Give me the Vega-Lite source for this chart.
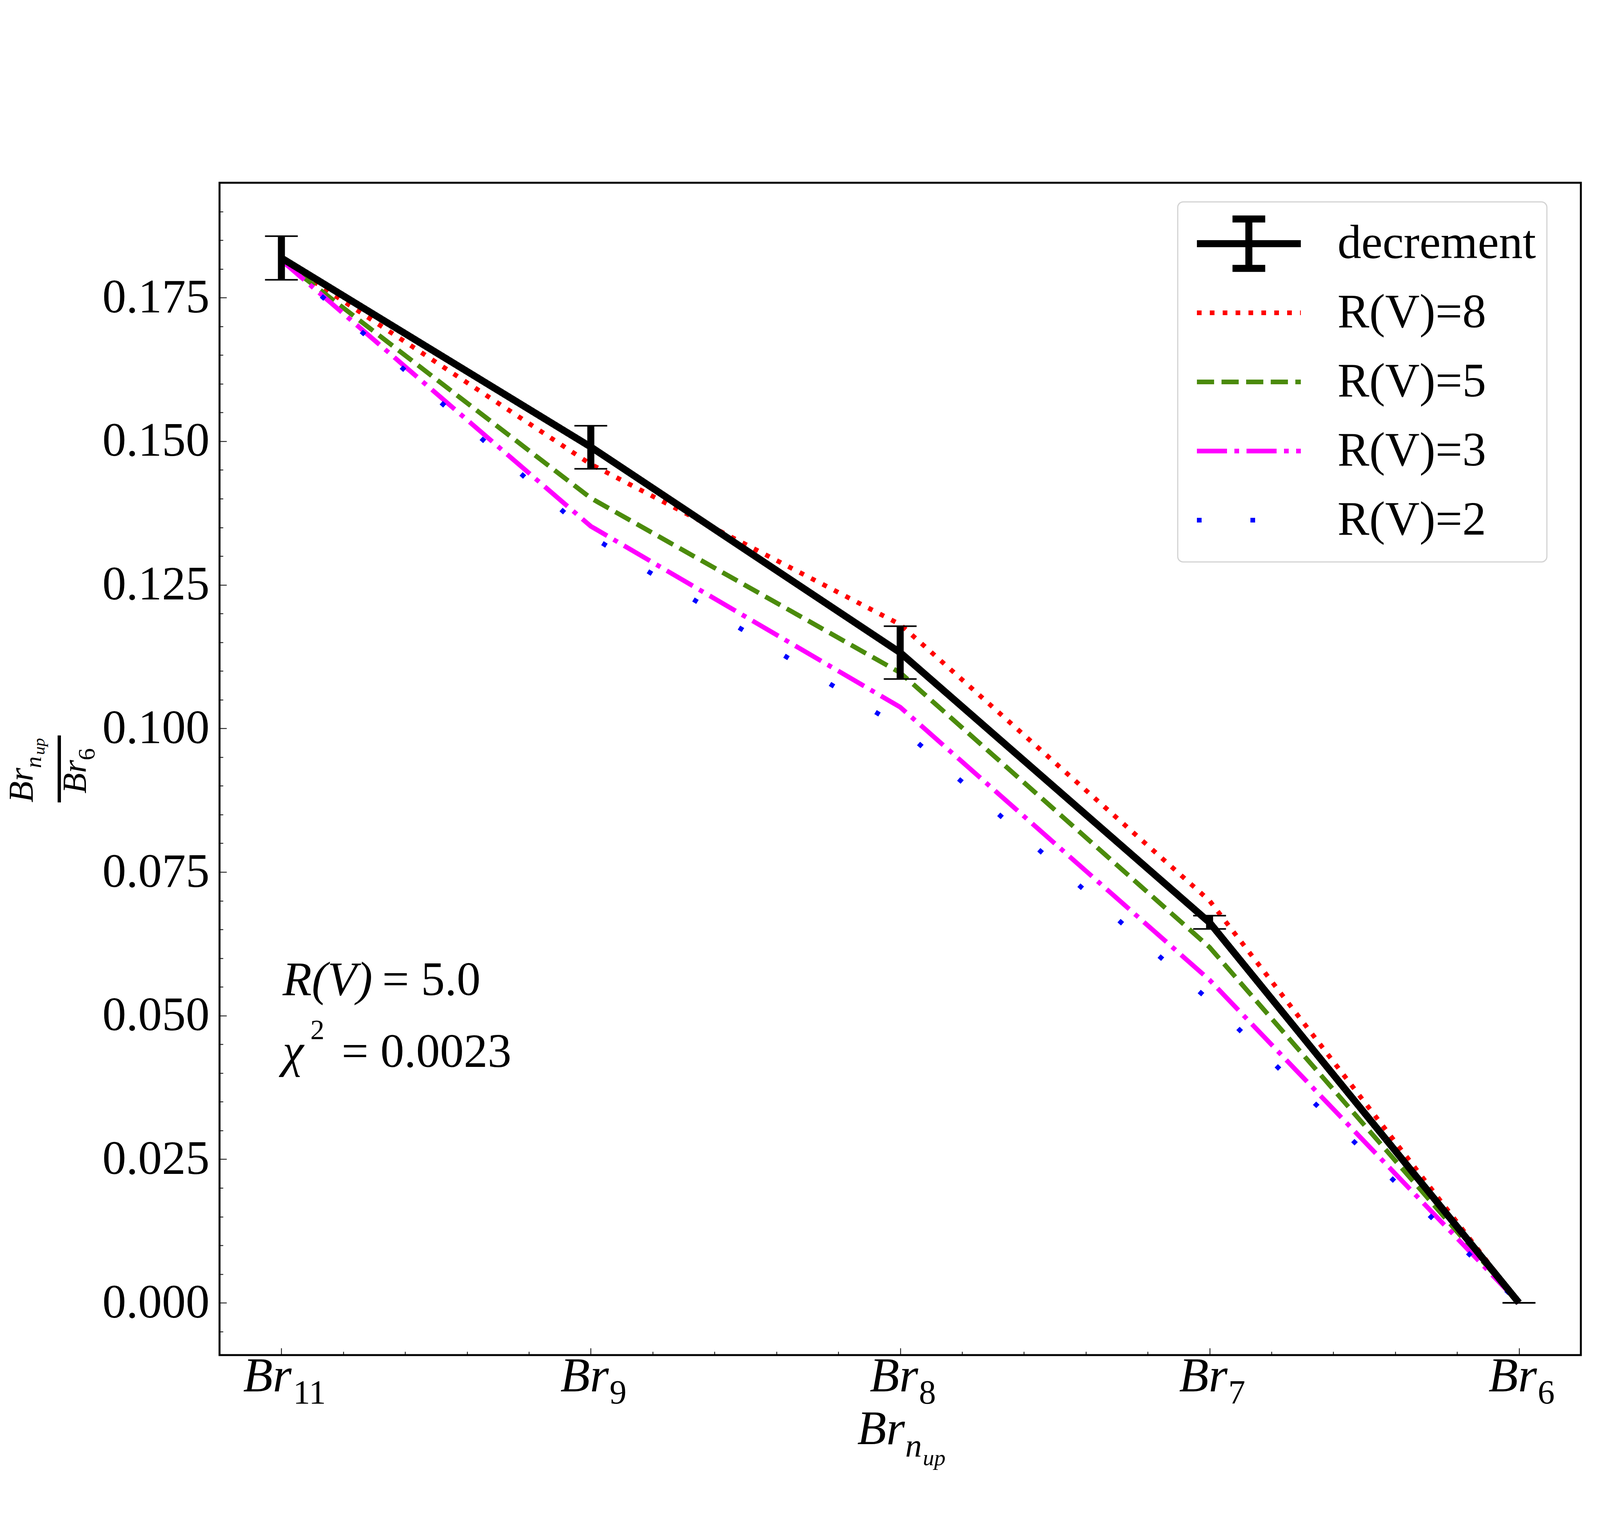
{
  "$schema": "https://vega.github.io/schema/vega-lite/v6.json",
  "width": 3485,
  "height": 3002,
  "autosize": "none",
  "padding": {"left": 562, "top": 468, "right": 453, "bottom": 430},
  "background": "white",
  "datasets": {
    "models": [
      {"series": "R(V)=8", "x": 0, "y": 0.1815},
      {"series": "R(V)=8", "x": 1, "y": 0.146},
      {"series": "R(V)=8", "x": 2, "y": 0.1181},
      {"series": "R(V)=8", "x": 3, "y": 0.07},
      {"series": "R(V)=8", "x": 4, "y": 0.0},
      {"series": "R(V)=5", "x": 0, "y": 0.1815},
      {"series": "R(V)=5", "x": 1, "y": 0.1401},
      {"series": "R(V)=5", "x": 2, "y": 0.1097},
      {"series": "R(V)=5", "x": 3, "y": 0.0619},
      {"series": "R(V)=5", "x": 4, "y": 0.0},
      {"series": "R(V)=3", "x": 0, "y": 0.1815},
      {"series": "R(V)=3", "x": 1, "y": 0.1352},
      {"series": "R(V)=3", "x": 2, "y": 0.1037},
      {"series": "R(V)=3", "x": 3, "y": 0.0562},
      {"series": "R(V)=3", "x": 4, "y": 0.0},
      {"series": "R(V)=2", "x": 0, "y": 0.1815},
      {"series": "R(V)=2", "x": 1, "y": 0.1335},
      {"series": "R(V)=2", "x": 2, "y": 0.1002},
      {"series": "R(V)=2", "x": 3, "y": 0.0526},
      {"series": "R(V)=2", "x": 4, "y": 0.0}
    ],
    "dec": [
      {"series": "decrement", "x": 0, "y": 0.1819, "lo": 0.1781, "hi": 0.1857},
      {"series": "decrement", "x": 1, "y": 0.149, "lo": 0.1452, "hi": 0.1527},
      {"series": "decrement", "x": 2, "y": 0.1132, "lo": 0.1086, "hi": 0.1178},
      {"series": "decrement", "x": 3, "y": 0.0662, "lo": 0.0651, "hi": 0.0674},
      {"series": "decrement", "x": 4, "y": 0.0, "lo": 0.0, "hi": 0.0}
    ],
    "ticks": [
      {"x": 0, "sub": "11"},
      {"x": 1, "sub": "9"},
      {"x": 2, "sub": "8"},
      {"x": 3, "sub": "7"},
      {"x": 4, "sub": "6"}
    ]
  },
  "data": {"values": [{}]},
  "layer": [
    {
      "data": {"name": "models"},
      "mark": {"type": "line", "strokeWidth": 12, "clip": true},
      "encoding": {
        "x": {
          "field": "x", "type": "quantitative",
          "scale": {"domain": [-0.2, 4.2], "nice": false, "zero": false},
          "axis": {"orient": "bottom", "values": [0, 1, 2, 3, 4], "labels": false, "tickSize": -18, "tickWidth": 2, "tickColor": "black", "domain": false, "grid": false, "title": null}
        },
        "y": {
          "field": "y", "type": "quantitative",
          "scale": {"domain": [-0.0091, 0.195], "nice": false, "zero": false},
          "axis": {"orient": "left", "values": [0, 0.025, 0.05, 0.075, 0.1, 0.125, 0.15, 0.175], "format": ".3f", "tickSize": -18, "tickWidth": 2, "tickColor": "black", "labelPadding": 44, "labelLimit": 0, "labelFont": "Liberation Serif", "labelFontSize": 122, "labelColor": "black", "domain": false, "grid": false, "title": null}
        },
        "color": {
          "field": "series", "type": "nominal",
          "scale": {"domain": ["decrement", "R(V)=8", "R(V)=5", "R(V)=3", "R(V)=2"], "range": ["#000000", "#ff0000", "#4b8b0c", "#ff00ff", "#0000ff"]},
          "legend": {
            "title": null,
            "encode": {
              "symbols": {
                "update": {
                  "shape": {"signal": "datum.value === 'decrement' ? 'M-1.17,0H6.83M2.83,-1.9V1.9M1.57,-1.9H4.09M1.57,1.9H4.09' : 'M-1.17,0H6.83'"},
                  "strokeWidth": {"signal": "datum.value === 'decrement' ? 18 : 12"}
                }
              }
            }
          }
        },
        "strokeDash": {
          "field": "series", "type": "nominal",
          "scale": {"domain": ["decrement", "R(V)=8", "R(V)=5", "R(V)=3", "R(V)=2"], "range": [[1, 0], [12, 21], [44, 19], [77, 19, 12, 19], [12, 125]]},
          "legend": {"title": null}
        }
      }
    },
    {
      "data": {"name": "dec"},
      "mark": {"type": "line", "strokeWidth": 18, "clip": true},
      "encoding": {
        "x": {
          "field": "x", "type": "quantitative",
          "axis": {"orient": "bottom", "values": [0.2, 0.4, 0.6, 0.8, 1.2, 1.4, 1.6, 1.8, 2.2, 2.4, 2.6, 2.8, 3.2, 3.4, 3.6, 3.8], "labels": false, "tickSize": -9, "tickWidth": 2, "tickColor": "black", "domain": false, "grid": false, "title": null}
        },
        "y": {
          "field": "y", "type": "quantitative",
          "axis": {"orient": "left", "values": [-0.005, 0.005, 0.01, 0.015, 0.02, 0.03, 0.035, 0.04, 0.045, 0.055, 0.06, 0.065, 0.07, 0.08, 0.085, 0.09, 0.095, 0.105, 0.11, 0.115, 0.12, 0.13, 0.135, 0.14, 0.145, 0.155, 0.16, 0.165, 0.17, 0.18, 0.185, 0.19], "labels": false, "tickSize": -9, "tickWidth": 2, "tickColor": "black", "domain": false, "grid": false, "title": null}
        },
        "color": {"field": "series", "type": "nominal"},
        "strokeDash": {"field": "series", "type": "nominal"}
      }
    },
    {
      "data": {"name": "dec"},
      "mark": {"type": "rule", "strokeWidth": 18, "color": "black"},
      "encoding": {
        "x": {"field": "x", "type": "quantitative", "axis": null},
        "y": {"field": "lo", "type": "quantitative", "axis": null},
        "y2": {"field": "hi"}
      }
    },
    {
      "data": {"name": "dec"},
      "mark": {"type": "tick", "orient": "horizontal", "size": 84, "thickness": 4, "color": "black", "opacity": 1},
      "encoding": {
        "x": {"field": "x", "type": "quantitative", "axis": null},
        "y": {"field": "lo", "type": "quantitative", "axis": null}
      }
    },
    {
      "data": {"name": "dec"},
      "mark": {"type": "tick", "orient": "horizontal", "size": 84, "thickness": 4, "color": "black", "opacity": 1},
      "encoding": {
        "x": {"field": "x", "type": "quantitative", "axis": null},
        "y": {"field": "hi", "type": "quantitative", "axis": null}
      }
    },
    {
      "data": {"name": "ticks"},
      "transform": [{"filter": "datum.sub !== '11'"}],
      "layer": [
        {
          "mark": {"type": "text", "text": "Br", "font": "Liberation Serif", "fontStyle": "italic", "fontSize": 124, "align": "right", "baseline": "alphabetic", "dx": 46, "dy": 93, "color": "black"},
          "encoding": {
            "x": {"field": "x", "type": "quantitative", "axis": null},
            "y": {"datum": -0.0091, "axis": null}
          }
        },
        {
          "mark": {"type": "text", "font": "Liberation Serif", "fontSize": 87, "align": "left", "baseline": "alphabetic", "dx": 48, "dy": 124, "color": "black"},
          "encoding": {
            "x": {"field": "x", "type": "quantitative", "axis": null},
            "y": {"datum": -0.0091, "axis": null},
            "text": {"field": "sub"}
          }
        }
      ]
    },
    {
      "data": {"name": "ticks"},
      "transform": [{"filter": "datum.sub === '11'"}],
      "layer": [
        {
          "mark": {"type": "text", "text": "Br", "font": "Liberation Serif", "fontStyle": "italic", "fontSize": 124, "align": "right", "baseline": "alphabetic", "dx": 26, "dy": 93, "color": "black"},
          "encoding": {
            "x": {"field": "x", "type": "quantitative", "axis": null},
            "y": {"datum": -0.0091, "axis": null}
          }
        },
        {
          "mark": {"type": "text", "font": "Liberation Serif", "fontSize": 87, "align": "left", "baseline": "alphabetic", "dx": 30, "dy": 124, "color": "black"},
          "encoding": {
            "x": {"field": "x", "type": "quantitative", "axis": null},
            "y": {"datum": -0.0091, "axis": null},
            "text": {"field": "sub"}
          }
        }
      ]
    },
    {
      "encoding": {
        "x": {"datum": 2, "type": "quantitative", "axis": null},
        "y": {"datum": -0.0091, "type": "quantitative", "axis": null}
      },
      "layer": [
        {"mark": {"type": "text", "text": "Br", "font": "Liberation Serif", "fontStyle": "italic", "fontSize": 122, "align": "right", "baseline": "alphabetic", "dx": 12, "dy": 228, "color": "black"}},
        {"mark": {"type": "text", "text": "n", "font": "Liberation Serif", "fontStyle": "italic", "fontSize": 85, "align": "left", "baseline": "alphabetic", "dx": 13, "dy": 260, "color": "black"}},
        {"mark": {"type": "text", "text": "up", "font": "Liberation Serif", "fontStyle": "italic", "fontSize": 58, "align": "left", "baseline": "alphabetic", "dx": 58, "dy": 282, "color": "black"}}
      ]
    },
    {
      "encoding": {
        "x": {"datum": -0.2, "type": "quantitative", "axis": null},
        "y": {"datum": 0.09295, "type": "quantitative", "axis": null}
      },
      "layer": [
        {"mark": {"type": "text", "text": "Br", "angle": 270, "font": "Liberation Serif", "fontStyle": "italic", "fontSize": 89, "align": "left", "baseline": "alphabetic", "dx": -86, "dy": -479, "color": "black"}},
        {"mark": {"type": "text", "text": "n", "angle": 270, "font": "Liberation Serif", "fontStyle": "italic", "fontSize": 60, "align": "left", "baseline": "alphabetic", "dx": 2, "dy": -457, "color": "black"}},
        {"mark": {"type": "text", "text": "up", "angle": 270, "font": "Liberation Serif", "fontStyle": "italic", "fontSize": 43, "align": "left", "baseline": "alphabetic", "dx": 36, "dy": -448, "color": "black"}},
        {"mark": {"type": "text", "text": "\u2014", "angle": 270, "font": "Liberation Serif", "fontSize": 169, "align": "center", "baseline": "alphabetic", "dx": 0, "dy": -371, "color": "black"}},
        {"mark": {"type": "text", "text": "Br", "angle": 270, "font": "Liberation Serif", "fontStyle": "italic", "fontSize": 86, "align": "left", "baseline": "alphabetic", "dx": -63, "dy": -342, "color": "black"}},
        {"mark": {"type": "text", "text": "6", "angle": 270, "font": "Liberation Serif", "fontSize": 62, "align": "left", "baseline": "alphabetic", "dx": 22, "dy": -320, "color": "black"}}
      ]
    },
    {
      "encoding": {
        "x": {"datum": 0, "type": "quantitative", "axis": null},
        "y": {"datum": 0.0536, "type": "quantitative", "axis": null}
      },
      "layer": [
        {"mark": {"type": "text", "text": "R(V)", "font": "Liberation Serif", "fontStyle": "italic", "fontSize": 122, "align": "left", "baseline": "alphabetic", "dx": 3, "color": "black"}},
        {"mark": {"type": "text", "text": "= 5.0", "font": "Liberation Serif", "fontSize": 122, "align": "left", "baseline": "alphabetic", "dx": 258, "color": "black"}}
      ]
    },
    {
      "encoding": {
        "x": {"datum": 0, "type": "quantitative", "axis": null},
        "y": {"datum": 0.0411, "type": "quantitative", "axis": null}
      },
      "layer": [
        {"mark": {"type": "text", "text": "\u03c7", "font": "Liberation Serif", "fontStyle": "italic", "fontSize": 122, "align": "left", "baseline": "alphabetic", "dx": 3, "color": "black"}},
        {"mark": {"type": "text", "text": "2", "font": "Liberation Serif", "fontSize": 72, "align": "left", "baseline": "alphabetic", "dx": 74, "dy": -71, "color": "black"}},
        {"mark": {"type": "text", "text": "= 0.0023", "font": "Liberation Serif", "fontSize": 122, "align": "left", "baseline": "alphabetic", "dx": 154, "color": "black"}}
      ]
    }
  ],
  "resolve": {"axis": {"x": "independent", "y": "independent"}},
  "config": {
    "font": "Liberation Serif",
    "view": {"stroke": "black", "strokeWidth": 5},
    "legend": {
      "orient": "none",
      "legendX": 2453,
      "legendY": 49,
      "padding": 27,
      "rowPadding": 17,
      "clipHeight": 160,
      "symbolSize": 4422,
      "symbolType": "M-1.17,0H6.83",
      "symbolStrokeWidth": 12,
      "labelFont": "Liberation Serif",
      "labelFontSize": 122,
      "labelColor": "black",
      "labelLimit": 1000,
      "labelOffset": 260,
      "fillColor": "white",
      "strokeColor": "#d3d3d3",
      "strokeWidth": 3,
      "cornerRadius": 14
    }
  }
}
